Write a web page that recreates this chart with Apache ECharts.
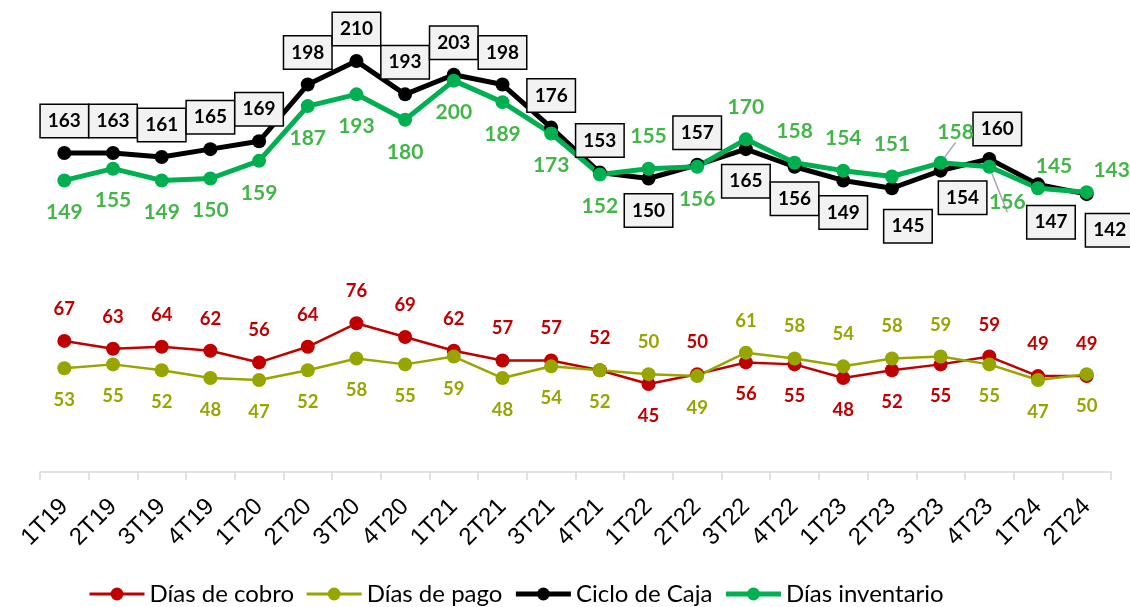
<!DOCTYPE html>
<html>
<head>
<meta charset="utf-8">
<script src="https://cdn.jsdelivr.net/npm/echarts@6/dist/echarts.min.js"></script>
<style>
  html, body { margin: 0; padding: 0; background: #fff; }
  #grafico { width: 1130px; height: 607px; }
</style>
</head>
<body>
<div id="grafico"></div>
<script>
// datos
const categorias = ['1T19', '2T19', '3T19', '4T19', '1T20', '2T20', '3T20', '4T20', '1T21', '2T21', '3T21',
  '4T21', '1T22', '2T22', '3T22', '4T22', '1T23', '2T23', '3T23', '4T23', '1T24', '2T24']
const diasCobro = [67, 63, 64, 62, 56, 64, 76, 69, 62, 57, 57, 52, 45, 50, 56, 55, 48, 52, 55, 59, 49, 49]
const diasPago = [53, 55, 52, 48, 47, 52, 58, 55, 59, 48, 54, 52, 50, 49, 61, 58, 54, 58, 59, 55, 47, 50]
const cicloCaja = [163, 163, 161, 165, 169, 198, 210, 193, 203, 198, 176, 153, 150, 157, 165, 156, 149, 145, 154, 160, 147, 142]
const diasInventario = [149, 155, 149, 150, 159, 187, 193, 180, 200, 189, 173, 152, 155, 156, 170, 158, 154, 151, 158, 156, 145, 143]

// lado de la etiqueta: a = arriba, b = abajo
const ladoCobro = 'aaaaaaaaaaaa' + 'b' + 'a' + 'bbbbb' + 'aaa'
const ladoPago = 'bbbbbbbbbbbb' + 'a' + 'b' + 'aaaaa' + 'bbb'
const ladoCiclo = 'aaaaaaaaaaaa' + 'b' + 'a' + 'bbbbb' + 'a' + 'bb'
const ladoInv = 'bbbbbbbbbbbb' + 'a' + 'b' + 'aaaaa' + 'b' + 'aa'

// etiquetas movidas a mano (indice: [dx, dy])
const ajusteCiclo = { 17: [16, 38], 18: [22, 27], 19: [8, -30], 20: [13, 38], 21: [23, 36] }
const ajusteInv = { 18: [15, -31], 19: [18, 35], 20: [16, -22], 21: [25, -22] }
const conGuia = { 18: true, 19: true }

const DIST = 32

function armarDatos (valores, lados, ajustes, guias) {
  return valores.map(function (v, i) {
    let off = [0, lados[i] === 'a' ? -DIST : DIST]
    if (ajustes && ajustes[i]) off = ajustes[i]
    let item = { value: v, label: { offset: off } }
    if (guias && guias[i]) {
      item.labelLine = { show: true, lineStyle: { color: '#A6A6A6', width: 1.5 } }
    }
    return item
  })
}

function serie (nombre, color, ancho, simbolo, datos, etiqueta) {
  return {
    name: nombre,
    type: 'line',
    data: datos,
    symbol: 'circle',
    symbolSize: simbolo,
    showAllSymbol: true,
    lineStyle: { color: color, width: ancho },
    itemStyle: { color: color },
    label: Object.assign({ show: true, position: 'inside' }, etiqueta),
    emphasis: { disabled: true }
  }
}

let dom = document.getElementById('grafico')
let myChart = echarts.init(dom, null, { renderer: 'canvas' })

let option = {
  animation: false,
  backgroundColor: '#ffffff',
  grid: {
    left: 40,
    right: 19,
    top: 41.5,
    bottom: 135,
    outerBoundsMode: 'none'
  },
  legend: {
    left: 88,
    top: 582,
    padding: 0,
    itemWidth: 55,
    itemHeight: 16,
    itemGap: 11,
    textStyle: { fontFamily: 'Lato', fontSize: 24, color: '#000' },
    data: [
      { name: 'Días de cobro', lineStyle: { width: 3 } },
      { name: 'Días de pago', lineStyle: { width: 3 } },
      { name: 'Ciclo de Caja', lineStyle: { width: 5 } },
      { name: 'Días inventario', lineStyle: { width: 5 } }
    ]
  },
  xAxis: {
    type: 'category',
    data: categorias,
    boundaryGap: true,
    axisLine: { lineStyle: { color: '#D9D9D9', width: 1.5 } },
    axisTick: { show: true, length: 8, lineStyle: { color: '#D9D9D9', width: 1.5 } },
    axisLabel: {
      interval: 0,
      rotate: 45,
      margin: 31,
      fontFamily: 'Liberation Sans',
      fontSize: 24,
      color: '#000'
    }
  },
  yAxis: {
    type: 'value',
    min: 0,
    max: 220,
    show: false,
    splitLine: { show: false }
  },
  series: [
    serie('Días de cobro', '#C00000', 2.5, 14, armarDatos(diasCobro, ladoCobro),
      { color: '#C00000', fontFamily: 'Lato', fontWeight: 'bold', fontSize: 18.5 }),
    serie('Días de pago', '#97A500', 2.5, 14, armarDatos(diasPago, ladoPago),
      { color: '#97A500', fontFamily: 'Lato', fontWeight: 'bold', fontSize: 18.5 }),
    serie('Ciclo de Caja', '#000000', 5, 14, armarDatos(cicloCaja, ladoCiclo, ajusteCiclo),
      {
        color: '#000', fontFamily: 'Lato', fontWeight: 'bold', fontSize: 19,
        backgroundColor: '#F2F2F2', borderColor: '#000', borderWidth: 1.5,
        padding: [6, 7], lineHeight: 20
      }),
    serie('Días inventario', '#00B050', 5, 14, armarDatos(diasInventario, ladoInv, ajusteInv, conGuia),
      { color: '#44B649', fontFamily: 'Lato', fontWeight: 'bold', fontSize: 21 })
  ]
}

myChart.setOption(option)
</script>
</body>
</html>
